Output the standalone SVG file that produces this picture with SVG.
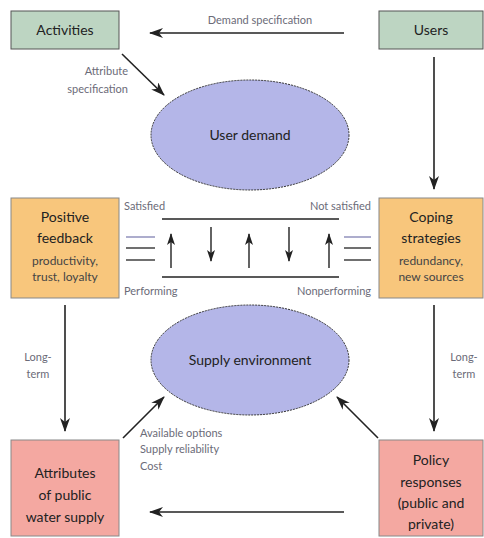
<svg xmlns="http://www.w3.org/2000/svg" width="484" height="538" viewBox="0 0 484 538">
<style>
.t{font-family:Lato,"Open Sans",sans-serif;fill:#222;text-anchor:middle}
.big{font-size:14px}
.sm{font-size:12px;fill:#444}
.lab{font-family:Lato,"Open Sans",sans-serif;font-size:11px;fill:#6b6b78}
.green{fill:#bdd5c2;stroke:#555;stroke-width:1}
.orange{fill:#f8c67c;stroke:#888;stroke-width:1}
.pink{fill:#f4a8a1;stroke:#888;stroke-width:1}
.ell{fill:#b4b6e8;stroke:#333;stroke-width:1;stroke-dasharray:2 1}
.ln{stroke:#222;stroke-width:1.6;fill:none}
.ar{stroke:#222;stroke-width:1.6;fill:none;marker-end:url(#ah)}
.sar{stroke:#222;stroke-width:1.4;fill:none;marker-end:url(#sh)}
</style>
<defs>
<marker id="ah" viewBox="0 0 14 10" refX="13" refY="5" markerWidth="14" markerHeight="10" markerUnits="userSpaceOnUse" orient="auto">
<path d="M0,0 L14,5 L0,10 L4,5 Z" fill="#222"/>
</marker>
<marker id="sh" viewBox="0 0 12 8" refX="11" refY="4" markerWidth="12" markerHeight="8" markerUnits="userSpaceOnUse" orient="auto">
<path d="M0,0 L12,4 L0,8 L3,4 Z" fill="#222"/>
</marker>
</defs>
<rect width="484" height="538" fill="#fff"/>
<g id="connectors">
<line class="ar" x1="344" y1="33" x2="150" y2="33"/>
<line class="ar" x1="122" y1="54" x2="164" y2="95"/>
<line class="ar" x1="434" y1="57" x2="434" y2="189"/>
<line class="ar" x1="65" y1="305" x2="65" y2="431"/>
<line class="ar" x1="434" y1="305" x2="434" y2="431"/>
<line class="ar" x1="123" y1="438" x2="164" y2="397"/>
<line class="ar" x1="378" y1="438" x2="337" y2="397"/>
<line class="ar" x1="344" y1="512" x2="150" y2="512"/>
<text class="lab" x="260" y="24" text-anchor="middle">Demand specification</text>
<text class="lab" x="128" y="75" text-anchor="end">Attribute</text>
<text class="lab" x="128" y="93" text-anchor="end">specification</text>
<text class="lab" x="38" y="361" text-anchor="middle">Long-</text>
<text class="lab" x="38" y="378" text-anchor="middle">term</text>
<text class="lab" x="464" y="361" text-anchor="middle">Long-</text>
<text class="lab" x="464" y="378" text-anchor="middle">term</text>
<text class="lab" x="140" y="437">Available options</text>
<text class="lab" x="140" y="453">Supply reliability</text>
<text class="lab" x="140" y="470">Cost</text>
</g>
<g id="balance">
<text class="lab" x="124" y="210">Satisfied</text>
<text class="lab" x="371" y="210" text-anchor="end">Not satisfied</text>
<text class="lab" x="124" y="295">Performing</text>
<text class="lab" x="371" y="295" text-anchor="end">Nonperforming</text>
<line class="ln" x1="162" y1="219" x2="339" y2="219"/>
<line class="ln" x1="162" y1="277" x2="339" y2="277"/>
<line x1="126" y1="237" x2="155" y2="237" stroke="#8a8ab8" stroke-width="1.4"/>
<line x1="126" y1="248" x2="155" y2="248" stroke="#333" stroke-width="1.4"/>
<line x1="126" y1="260" x2="155" y2="260" stroke="#333" stroke-width="1.4"/>
<line x1="344" y1="237" x2="371" y2="237" stroke="#8a8ab8" stroke-width="1.4"/>
<line x1="344" y1="248" x2="371" y2="248" stroke="#333" stroke-width="1.4"/>
<line x1="344" y1="260" x2="371" y2="260" stroke="#333" stroke-width="1.4"/>
<line class="sar" x1="171" y1="268" x2="171" y2="234"/>
<line class="sar" x1="211" y1="227" x2="211" y2="261"/>
<line class="sar" x1="249" y1="268" x2="249" y2="234"/>
<line class="sar" x1="289" y1="227" x2="289" y2="261"/>
<line class="sar" x1="329" y1="268" x2="329" y2="234"/>
</g>
<g id="activities">
<rect class="green" x="11" y="11" width="108" height="38"/>
<text class="t big" x="65" y="35">Activities</text>
</g>
<g id="users">
<rect class="green" x="379" y="11" width="104" height="38"/>
<text class="t big" x="431" y="35">Users</text>
</g>
<g id="user-demand">
<ellipse class="ell" cx="250" cy="135" rx="99" ry="55"/>
<text class="t big" x="250" y="140">User demand</text>
</g>
<g id="positive-feedback">
<rect class="orange" x="11" y="198" width="108" height="100"/>
<text class="t big" x="65" y="222">Positive</text>
<text class="t big" x="65" y="243">feedback</text>
<text class="t sm" x="65" y="265">productivity,</text>
<text class="t sm" x="65" y="281">trust, loyalty</text>
</g>
<g id="coping-strategies">
<rect class="orange" x="379" y="198" width="104" height="100"/>
<text class="t big" x="431" y="222">Coping</text>
<text class="t big" x="431" y="243">strategies</text>
<text class="t sm" x="431" y="265">redundancy,</text>
<text class="t sm" x="431" y="281">new sources</text>
</g>
<g id="supply-environment">
<ellipse class="ell" cx="250" cy="360" rx="99" ry="55"/>
<text class="t big" x="250" y="365">Supply environment</text>
</g>
<g id="attributes">
<rect class="pink" x="11" y="440" width="108" height="96"/>
<text class="t big" x="65" y="478">Attributes</text>
<text class="t big" x="65" y="500">of public</text>
<text class="t big" x="65" y="522">water supply</text>
</g>
<g id="policy-responses">
<rect class="pink" x="379" y="440" width="104" height="96"/>
<text class="t big" x="431" y="465">Policy</text>
<text class="t big" x="431" y="487">responses</text>
<text class="t big" x="431" y="508">(public and</text>
<text class="t big" x="431" y="529">private)</text>
</g>
</svg>
